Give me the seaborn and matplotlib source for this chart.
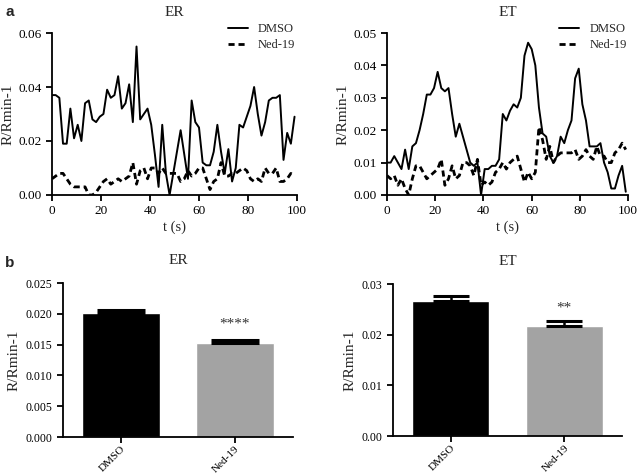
import numpy as np
import pandas as pd
import matplotlib
matplotlib.use("Agg")
import matplotlib.pyplot as plt
import seaborn as sns

# ── Datos ─────────────────────────────────────────────────────────────────────
t = [0, 1.5, 3, 4.5, 6, 7.5, 9, 10.5, 12, 13.5, 15, 16.5, 18, 19.5, 21, 22.5,
     24, 25.5, 27, 28.5, 30, 31.5, 33, 34.5, 36, 37.5, 39, 40.5, 42, 43.5, 45,
     46.5, 48, 49.5, 51, 52.5, 54, 55.5, 57, 58.5, 60, 61.5, 63, 64.5, 66,
     67.5, 69, 70.5, 72, 73.5, 75, 76.5, 78, 79.5, 81, 82.5, 84, 85.5, 87,
     88.5, 90, 91.5, 93, 94.5, 96, 97.5, 99]

er_dmso = [0.037, 0.037, 0.036, 0.019, 0.019, 0.032, 0.021, 0.026, 0.020,
           0.034, 0.035, 0.028, 0.027, 0.029, 0.030, 0.039, 0.036, 0.037,
           0.044, 0.032, 0.034, 0.041, 0.027, 0.055, 0.028, 0.030, 0.032,
           0.026, 0.015, 0.003, 0.026, 0.008, 0.000, 0.008, 0.016, 0.024,
           0.015, 0.006, 0.035, 0.027, 0.025, 0.012, 0.011, 0.011, 0.016,
           0.026, 0.016, 0.008, 0.017, 0.005, 0.010, 0.026, 0.025, 0.029,
           0.033, 0.040, 0.030, 0.022, 0.027, 0.035, 0.036, 0.036, 0.037,
           0.013, 0.023, 0.019, 0.029]
er_ned = [0.006, 0.007, 0.008, 0.008, 0.006, 0.004, 0.003, 0.003, 0.003,
          0.003, 0.000, 0.000, 0.001, 0.003, 0.005, 0.006, 0.004, 0.005,
          0.006, 0.005, 0.006, 0.007, 0.012, 0.004, 0.009, 0.010, 0.006,
          0.010, 0.010, 0.008, 0.010, 0.008, 0.008, 0.008, 0.008, 0.005,
          0.006, 0.009, 0.007, 0.008, 0.010, 0.010, 0.006, 0.002, 0.005,
          0.006, 0.012, 0.007, 0.007, 0.008, 0.008, 0.009, 0.010, 0.009,
          0.006, 0.005, 0.006, 0.005, 0.010, 0.008, 0.008, 0.010, 0.005,
          0.005, 0.006, 0.008, 0.007]

et_dmso = [0.010, 0.010, 0.012, 0.010, 0.008, 0.014, 0.008, 0.015, 0.016,
           0.020, 0.025, 0.031, 0.031, 0.033, 0.038, 0.033, 0.032, 0.033,
           0.025, 0.018, 0.022, 0.018, 0.014, 0.010, 0.009, 0.010, 0.000,
           0.008, 0.008, 0.009, 0.009, 0.011, 0.025, 0.023, 0.026, 0.028,
           0.027, 0.030, 0.043, 0.047, 0.045, 0.040, 0.027, 0.019, 0.018,
           0.012, 0.010, 0.012, 0.018, 0.016, 0.020, 0.023, 0.036, 0.039,
           0.028, 0.023, 0.015, 0.015, 0.015, 0.016, 0.010, 0.007, 0.002,
           0.002, 0.006, 0.009, 0.001]
et_ned = [0.006, 0.005, 0.006, 0.003, 0.005, 0.002, 0.000, 0.005, 0.009,
          0.009, 0.007, 0.005, 0.006, 0.007, 0.008, 0.011, 0.003, 0.005,
          0.009, 0.005, 0.006, 0.010, 0.010, 0.009, 0.006, 0.011, 0.003,
          0.004, 0.003, 0.004, 0.007, 0.008, 0.010, 0.008, 0.010, 0.011,
          0.012, 0.008, 0.004, 0.007, 0.005, 0.007, 0.021, 0.017, 0.011,
          0.015, 0.010, 0.012, 0.013, 0.013, 0.013, 0.013, 0.014, 0.011,
          0.012, 0.014, 0.012, 0.011, 0.015, 0.012, 0.012, 0.010, 0.010,
          0.013, 0.014, 0.016, 0.014]

grupos = ["DMSO", "Ned-19"]
er_media = [0.0201, 0.0152]
er_sem = [0.0006, 0.0005]
et_media = [0.0266, 0.0217]
et_sem = [0.0011, 0.0010]

# ── Estilo ────────────────────────────────────────────────────────────────────
sns.set_style("ticks")
plt.rcParams["font.family"] = ["Liberation Serif", "DejaVu Serif"]
plt.rcParams["axes.linewidth"] = 1.3
plt.rcParams["xtick.major.width"] = 1.3
plt.rcParams["ytick.major.width"] = 1.3
plt.rcParams["axes.edgecolor"] = "black"
GRIS = "#a3a3a3"

fig = plt.figure(figsize=(6.38, 4.75), dpi=100)


def panel_trazas(pos, titulo, dmso, ned, ymax, yticks, yfmt):
    ax = fig.add_axes(pos)
    sns.lineplot(x=t, y=dmso, ax=ax, color="black", lw=1.4, label="DMSO")
    sns.lineplot(x=t, y=ned, ax=ax, color="black", lw=2.0, label="Ned-19",
                 linestyle=(0, (2.2, 1.4)))
    ax.set_xlim(0, 100)
    ax.set_ylim(0, ymax)
    ax.set_xticks([0, 20, 40, 60, 80, 100])
    ax.set_yticks(yticks)
    ax.set_yticklabels([yfmt.format(v) for v in yticks])
    ax.tick_params(labelsize=9.5, length=4, color="black", labelcolor="black")
    ax.set_xlabel("t (s)", fontsize=10.5, labelpad=2)
    ax.set_ylabel("R/Rmin-1", fontsize=11, labelpad=3)
    ax.set_title(titulo, fontsize=11, pad=12)
    ax.legend(loc="upper right", bbox_to_anchor=(1.04, 1.13), frameon=False,
              fontsize=9, handlelength=1.6, labelspacing=0.3)
    sns.despine(ax=ax)
    return ax


def panel_barras(pos, titulo, media, sem, ymax, yticks, yfmt, estrellas,
                 y_estr, cap):
    ax = fig.add_axes(pos)
    df = pd.DataFrame({"grupo": grupos, "valor": media})
    sns.barplot(data=df, x="grupo", y="valor", hue="grupo",
                palette=["black", GRIS], width=0.68, ax=ax, legend=False)
    ax.errorbar(range(len(grupos)), media, yerr=[[0, 0], sem], fmt="none",
                ecolor="black", elinewidth=1.8, capsize=cap, capthick=2.2)
    ax.text(1, y_estr, estrellas, ha="center", va="center", fontsize=11,
            color="#333333")
    ax.set_xlim(-0.51, 1.51)
    ax.set_ylim(0, ymax)
    ax.set_yticks(yticks)
    ax.set_yticklabels([yfmt.format(v) for v in yticks])
    ax.set_xticks(range(len(grupos)))
    ax.set_xticklabels(grupos, rotation=45, ha="right", rotation_mode="anchor")
    ax.tick_params(axis="y", labelsize=8.5, length=4, color="black",
                   labelcolor="black")
    ax.tick_params(axis="x", labelsize=8, length=4, pad=1, color="black",
                   labelcolor="black")
    ax.set_xlabel("")
    ax.set_ylabel("R/Rmin-1", fontsize=11, labelpad=4)
    ax.set_title(titulo, fontsize=11, pad=14)
    sns.despine(ax=ax)
    return ax


panel_trazas([0.0815, 0.5895, 0.384, 0.341], "ER", er_dmso, er_ned, 0.06,
             [0, 0.02, 0.04, 0.06], "{:.2f}")
panel_trazas([0.6066, 0.5895, 0.378, 0.341], "ET", et_dmso, et_ned, 0.05,
             [0, 0.01, 0.02, 0.03, 0.04, 0.05], "{:.2f}")

panel_barras([0.0987, 0.080, 0.3605, 0.324], "ER", er_media, er_sem, 0.025,
             [0, 0.005, 0.010, 0.015, 0.020, 0.025], "{:.3f}", "****", 0.0183,
             17)
panel_barras([0.616, 0.082, 0.359, 0.320], "ET", et_media, et_sem, 0.03,
             [0, 0.01, 0.02, 0.03], "{:.2f}", "**", 0.0253, 13)

fig.text(0.008, 0.975, "a", fontsize=11, fontweight="bold",
         family="Liberation Sans", va="center")
fig.text(0.008, 0.447, "b", fontsize=11, fontweight="bold",
         family="Liberation Sans", va="center")

fig.savefig("out.png", dpi=100)
